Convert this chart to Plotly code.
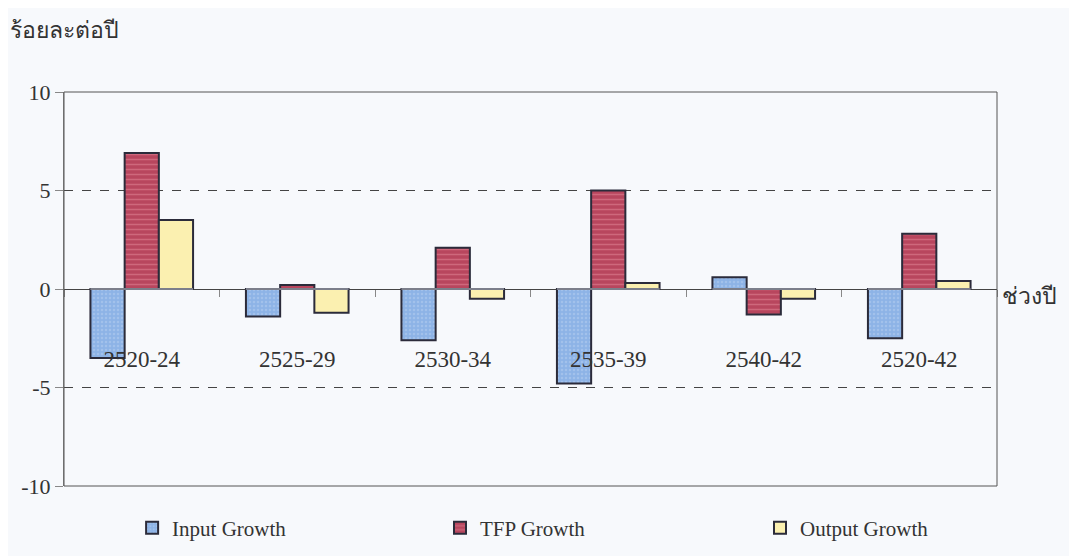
import plotly.graph_objects as go

periods = ['2520-24', '2525-29', '2530-34', '2535-39', '2540-42', '2520-42']
input_growth = [-3.5, -1.4, -2.6, -4.8, 0.6, -2.5]
tfp_growth = [6.9, 0.2, 2.1, 5.0, -1.3, 2.8]
output_growth = [3.5, -1.2, -0.5, 0.3, -0.5, 0.4]
y_ticks = [-10, -5, 0, 5, 10]
y_tick_text = ['-10', '-5', '0', '5', '10']

serif = 'Liberation Serif, Times New Roman, serif'
edge = dict(color='#2b2b3a', width=2)

fig = go.Figure()
fig.add_trace(go.Bar(x=periods, y=input_growth, name='Input Growth', legend='legend',
                     marker=dict(color='#8db3e6', line=edge,
                                 pattern=dict(shape='.', fgcolor='#b5cdf0', size=4, solidity=0.3))))
fig.add_trace(go.Bar(x=periods, y=tfp_growth, name='TFP Growth', legend='legend2',
                     marker=dict(color='#b8465e', line=edge,
                                 pattern=dict(shape='-', fgcolor='#e48a9a', size=5, solidity=0.3))))
fig.add_trace(go.Bar(x=periods, y=output_growth, name='Output Growth', legend='legend3',
                     marker=dict(color='#fbf0b0', line=edge)))

# dummy trace on a second x axis so its ticks sit on the zero line
fig.add_trace(go.Bar(x=periods, y=[0] * len(periods), xaxis='x2', showlegend=False,
                     hoverinfo='skip', marker=dict(color='rgba(0,0,0,0)')))

leg = dict(orientation='h', yref='container', y=0.051, xanchor='left', yanchor='middle',
           font=dict(family=serif, size=21, color='#333333'), bgcolor='rgba(0,0,0,0)')

# page body adds an 8px margin, so the figure is a bit smaller than the window
fig.update_layout(
    width=1069, height=548,
    barmode='group', bargap=0.34, bargroupgap=0,
    plot_bgcolor='#f7f9fc', paper_bgcolor='#f7f9fc',
    margin=dict(l=56, r=80, t=84, b=70, autoexpand=False),
    font=dict(family=serif, size=16, color='#333333'),
    xaxis=dict(
        anchor='free', position=0.363, showline=False, ticks='',
        showgrid=False, tickfont=dict(size=23, color='#333333'),
    ),
    xaxis2=dict(
        overlaying='x', anchor='free', position=0.5, showline=False,
        ticks='outside', tickson='boundaries', ticklen=7, tickcolor='#888888',
        showticklabels=False, showgrid=False,
    ),
    yaxis=dict(
        range=[-10, 10], tickvals=y_ticks, ticktext=y_tick_text,
        showgrid=True, gridcolor='#444444', griddash='dash', gridwidth=1,
        zeroline=True, zerolinecolor='#444444', zerolinewidth=1,
        showline=True, linecolor='#888888', linewidth=1,
        ticks='outside', ticklen=8, tickcolor='#888888',
        tickfont=dict(size=22, color='#333333'),
    ),
    legend=dict(leg, x=0.073),
    legend2=dict(leg, x=0.403),
    legend3=dict(leg, x=0.746),
    showlegend=True,
)

# frame round the plot area
fig.add_shape(type='rect', xref='paper', yref='paper', x0=0, x1=1, y0=0, y1=1,
              line=dict(color='#555555', width=1))

fig.add_annotation(text='ร้อยละต่อปี', xref='paper', yref='paper', x=-0.06, y=1.157,
                   xanchor='left', yanchor='middle', showarrow=False,
                   font=dict(size=23, color='#333333'))
fig.add_annotation(text='ช่วงปี', xref='paper', yref='paper', x=1.003, y=0.48,
                   xanchor='left', yanchor='middle', showarrow=False,
                   font=dict(size=23, color='#333333'))

fig.write_html('out.html')
